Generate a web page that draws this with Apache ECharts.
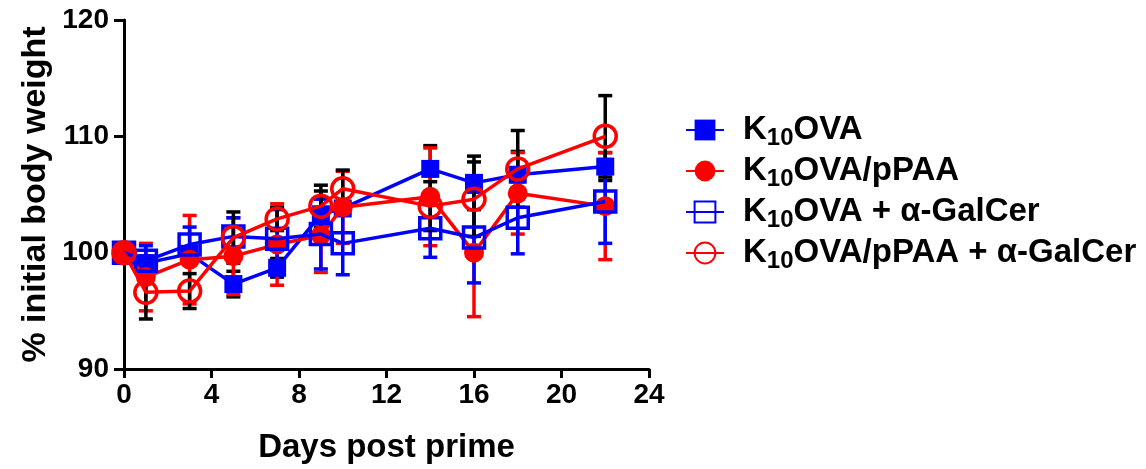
<!DOCTYPE html>
<html>
<head>
<meta charset="utf-8">
<script src="https://cdn.jsdelivr.net/npm/echarts@6/dist/echarts.min.js"></script>
<style>
html,body{margin:0;padding:0;background:#fff;}
#chart{width:1146px;height:469px;}
</style>
</head>
<body>
<div id="chart"></div>
<script>
// ---- data ----
const days = [0, 1, 3, 5, 7, 9, 10, 14, 16, 18, 22];
const xTicks = [0, 4, 8, 12, 16, 20, 24];
const yTicks = [90, 100, 110, 120];

const k10ovaMean = [100, 99.1, 99.9, 97.3, 98.7, 103.3, 103.8, 107.2, 106.0, 106.7, 107.4];
const k10ovaErr  = [0, 0.6, 0.6, 1.1, 0.8, 2.0, 0.5, 2.0, 2.3, 2.0, 1.2];

const ppaaMean = [100, 97.9, 99.4, 99.7, 100.7, 101.5, 103.9, 104.8, 100.0, 105.1, 104.0];
const ppaaErr  = [0, 2.9, 3.8, 3.3, 3.5, 3.2, 3.1, 4.2, 5.5, 3.5, 4.6];

const galMean = [100, 99.3, 100.7, 101.4, 101.2, 101.6, 100.8, 102.1, 101.3, 103.0, 104.4];
const galErr  = [0, 1.3, 1.5, 1.6, 2.5, 3.0, 2.7, 2.5, 3.9, 3.1, 3.6];

const ppaaGalMean = [100, 96.6, 96.7, 101.3, 102.9, 104.0, 105.5, 104.0, 104.6, 107.2, 110.0];
const ppaaGalErr  = [0, 2.3, 1.5, 2.2, 1.0, 1.8, 1.6, 2.1, 3.2, 3.3, 3.5];

const seriesNames = ['K10OVA', 'K10OVA/pPAA', 'K10OVA + α-GalCer', 'K10OVA/pPAA + α-GalCer'];

// ---- chart ----
const BLUE = '#0000ff', RED = '#ff0000', BLACK = '#000000';
const FONT = '"Liberation Sans", Arial, Helvetica, sans-serif';

function pts(mean) { return days.map((d, i) => [d, mean[i]]); }
function errPts(mean, err) { return days.map((d, i) => [d, mean[i], err[i]]); }

function errSeries(name, mean, err, color, z) {
  return {
    type: 'custom',
    name: name,
    z: z,
    silent: true,
    data: errPts(mean, err),
    renderItem: function (params, api) {
      const x = api.value(0), m = api.value(1), e = api.value(2);
      if (!e) return null;
      const t = api.coord([x, m + e]);
      const b = api.coord([x, m - e]);
      const hw = 7;
      const st = { stroke: color, lineWidth: 3.5 };
      return {
        type: 'group',
        children: [
          { type: 'line', shape: { x1: t[0], y1: t[1], x2: b[0], y2: b[1] }, style: st },
          { type: 'line', shape: { x1: t[0] - hw, y1: t[1], x2: t[0] + hw, y2: t[1] }, style: st },
          { type: 'line', shape: { x1: b[0] - hw, y1: b[1], x2: b[0] + hw, y2: b[1] }, style: st }
        ]
      };
    }
  };
}

function lineSeries(name, mean, color, symbol, size, filled, z) {
  return {
    type: 'line',
    name: name,
    z: z,
    data: pts(mean),
    symbol: symbol,
    symbolSize: size,
    showAllSymbol: true,
    lineStyle: { color: color, width: 3.5 },
    itemStyle: filled
      ? { color: color, borderColor: color, borderWidth: 0 }
      : { color: 'rgba(255,255,255,0)', borderColor: color, borderWidth: 3.5 },
    emphasis: { disabled: true },
    animation: false
  };
}

const chart = echarts.init(document.getElementById('chart'), null, { renderer: 'canvas' });

chart.setOption({
  animation: false,
  backgroundColor: '#ffffff',
  grid: { left: 124, right: 497, top: 20, bottom: 97, containLabel: false },
  xAxis: {
    type: 'value',
    min: xTicks[0],
    max: xTicks[xTicks.length - 1],
    interval: xTicks[1] - xTicks[0],
    name: 'Days post prime',
    nameLocation: 'middle',
    nameGap: 62,
    nameTextStyle: { fontSize: 33, fontWeight: 'bold', color: BLACK, fontFamily: FONT },
    axisLine: { show: true, onZero: false, lineStyle: { color: BLACK, width: 3 } },
    axisTick: { show: true, length: 9, lineStyle: { color: BLACK, width: 3 } },
    axisLabel: { fontSize: 28, fontWeight: 'bold', color: BLACK, fontFamily: FONT, margin: 12 },
    splitLine: { show: false }
  },
  yAxis: {
    type: 'value',
    min: yTicks[0],
    max: yTicks[yTicks.length - 1],
    interval: yTicks[1] - yTicks[0],
    name: '% initial body weight',
    nameLocation: 'middle',
    nameGap: 71,
    nameRotate: 90,
    nameTextStyle: { fontSize: 34, fontWeight: 'bold', color: BLACK, fontFamily: FONT },
    axisLine: { show: true, lineStyle: { color: BLACK, width: 3 } },
    axisTick: { show: true, length: 10, lineStyle: { color: BLACK, width: 3 } },
    axisLabel: { fontSize: 28, fontWeight: 'bold', color: BLACK, fontFamily: FONT, margin: 15 },
    splitLine: { show: false }
  },
  legend: {
    data: seriesNames,
    orient: 'vertical',
    left: 685,
    top: 110,
    padding: 0,
    itemWidth: 38,
    itemHeight: 26,
    itemGap: 1,
    itemTextGap: 8,
    selectedMode: false,
    formatter: function (name) {
      const rest = name.slice(3);
      return '{k|K}{s|10}{a|' + rest + '}';
    },
    textStyle: {
      color: BLACK,
      fontFamily: FONT,
      rich: {
        k: { fontSize: 33, fontWeight: 'bold', color: BLACK, fontFamily: FONT, lineHeight: 36, padding: [0, 0, 0, 14] },
        a: { fontSize: 33, fontWeight: 'bold', color: BLACK, fontFamily: FONT, lineHeight: 36 },
        s: { fontSize: 24, fontWeight: 'bold', color: BLACK, fontFamily: FONT, lineHeight: 36, padding: [16, 0, 0, 0] }
      }
    }
  },
  series: [
    errSeries('err1', k10ovaMean, k10ovaErr, BLACK, 1),
    errSeries('err2', ppaaMean, ppaaErr, RED, 1),
    errSeries('err3', galMean, galErr, BLUE, 1),
    errSeries('err4', ppaaGalMean, ppaaGalErr, BLACK, 1),
    lineSeries(seriesNames[0], k10ovaMean, BLUE, 'rect', 18, true, 3),
    lineSeries(seriesNames[1], ppaaMean, RED, 'circle', 20, true, 4),
    lineSeries(seriesNames[2], galMean, BLUE, 'rect', 21, false, 5),
    lineSeries(seriesNames[3], ppaaGalMean, RED, 'circle', 22, false, 6)
  ]
});
</script>
</body>
</html>
